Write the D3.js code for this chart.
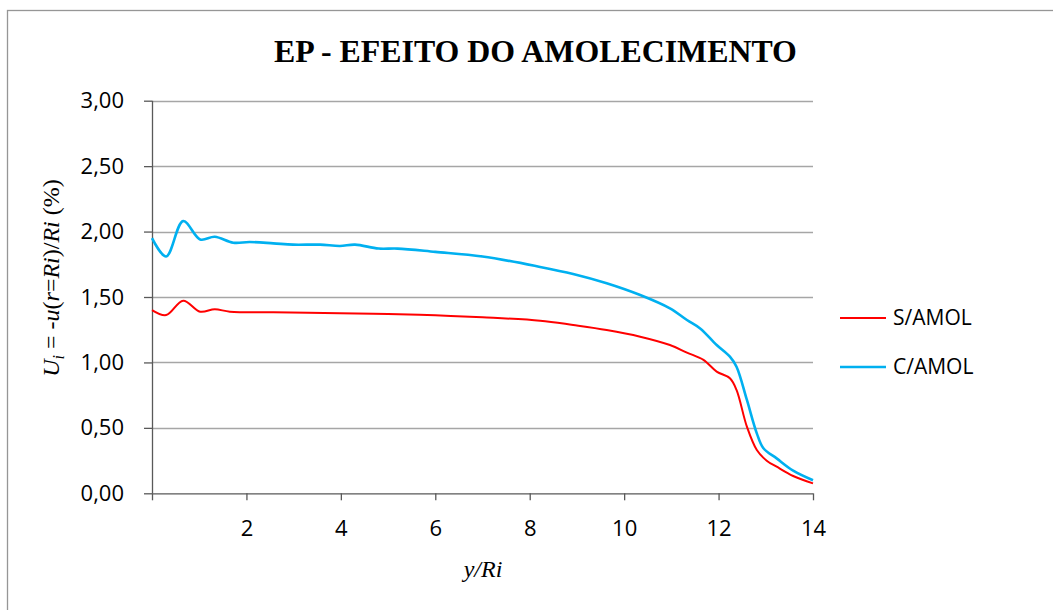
<!DOCTYPE html>
<html><head><meta charset="utf-8">
<script src="https://cdnjs.cloudflare.com/ajax/libs/d3/7.8.5/d3.min.js"></script>
<style>body{margin:0;background:#fff;} svg{display:block;}</style>
</head><body>
<svg id="c" width="1053" height="610"></svg>
<script>
const title = "EP - EFEITO DO AMOLECIMENTO";
const seriesNames = ["S/AMOL", "C/AMOL"];
const seriesColors = ["#FF0000", "#00B0F0"];
const xTicks = [0, 2, 4, 6, 8, 10, 12, 14];
const yTicks = [0, 0.5, 1.0, 1.5, 2.0, 2.5, 3.0];

const sX = [0, 0.30, 0.66, 1.02, 1.33, 1.65, 2.57, 3.98, 5.0, 6.0, 7.0, 8.22, 8.92, 9.63, 10.34, 10.97, 11.33, 11.68, 11.96, 12.24, 12.38, 12.60, 12.81, 13.02, 13.23, 13.58, 14.0];
const sY = [1.40, 1.362, 1.472, 1.388, 1.406, 1.388, 1.383, 1.375, 1.37, 1.36, 1.345, 1.319, 1.286, 1.248, 1.197, 1.133, 1.075, 1.019, 0.93, 0.879, 0.79, 0.509, 0.331, 0.249, 0.203, 0.132, 0.076];

const cX = [0, 0.30, 0.66, 1.02, 1.33, 1.72, 2.07, 2.57, 2.99, 3.56, 3.98, 4.3, 4.8, 5.2, 6.0, 7.0, 8.22, 8.92, 9.63, 10.34, 10.97, 11.33, 11.61, 11.96, 12.24, 12.38, 12.60, 12.81, 12.95, 13.23, 13.58, 14.0];
const cY = [1.95, 1.81, 2.08, 1.94, 1.96, 1.915, 1.92, 1.91, 1.90, 1.90, 1.89, 1.90, 1.87, 1.87, 1.845, 1.81, 1.73, 1.676, 1.605, 1.515, 1.413, 1.324, 1.26, 1.133, 1.044, 0.967, 0.713, 0.458, 0.344, 0.267, 0.173, 0.10];

const svg = d3.select("#c");
const L = 152, R = 813, T = 100.7, B = 493.3;
const x = d3.scaleLinear().domain([0, 14]).range([L, R]);
const y = d3.scaleLinear().domain([0, 3]).range([B, T]);
const fmt = v => d3.format(".2f")(v).replace(".", ",");
const FS = 22;

// frame (only top and left edges fall inside the picture)
svg.append("rect").attr("x", 7.5).attr("y", 10.5).attr("width", 1200).attr("height", 800)
  .attr("fill", "#fff").attr("stroke", "#969696").attr("stroke-width", 1.3);

// grid
svg.append("g").selectAll("line").data(yTicks.filter(d => d > 0)).join("line")
  .attr("x1", L).attr("x2", R).attr("y1", d => Math.round(y(d)) + 0.5).attr("y2", d => Math.round(y(d)) + 0.5)
  .attr("stroke", "#A6A6A6").attr("stroke-width", 1.3);

// y axis
const ya = svg.append("g").attr("transform", `translate(${L},0)`)
  .call(d3.axisLeft(y).tickValues(yTicks).tickFormat(fmt).tickSize(8).tickPadding(20));
// x axis
const xa = svg.append("g").attr("transform", `translate(0,${B})`)
  .call(d3.axisBottom(x).tickValues(xTicks).tickFormat(d => d === 0 ? "" : d).tickSize(7).tickPadding(20));
[ya, xa].forEach(a => {
  a.select(".domain").attr("stroke", "#595959").attr("stroke-width", 1.3);
  a.selectAll(".tick line").attr("stroke", "#595959").attr("stroke-width", 1.3);
  a.selectAll("text").attr("font-family", "Open Sans, sans-serif").attr("font-size", FS).attr("fill", "#000");
});
xa.select(".domain").attr("d", `M${L},0.5H${R}`);
ya.select(".domain").attr("d", `M0.5,${B}V${T}`);

// lines
const line = d3.line().x(d => x(d[0])).y(d => y(d[1])).curve(d3.curveCatmullRom.alpha(0.5));
const sData = sX.map((v, i) => [v, sY[i]]);
const cData = cX.map((v, i) => [v, cY[i]]);
svg.append("path").datum(sData).attr("d", line).attr("fill", "none").attr("stroke", seriesColors[0]).attr("stroke-width", 2);
svg.append("path").datum(cData).attr("d", line).attr("fill", "none").attr("stroke", seriesColors[1]).attr("stroke-width", 2.6);

// title
const t = svg.append("text").attr("x", 535.5).attr("y", 62).attr("text-anchor", "middle")
  .attr("font-family", "Liberation Serif, Times New Roman, serif").attr("font-weight", "bold")
  .attr("font-size", 28).text(title);
const tw = t.node().getComputedTextLength();
t.attr("font-size", 28 * 523 / tw);

// y label
const yl = svg.append("text").attr("transform", "translate(59,278) rotate(-90)").attr("text-anchor", "middle")
  .attr("font-family", "Liberation Serif, Times New Roman, serif").attr("font-size", 24).attr("fill", "#000");
yl.append("tspan").attr("font-style", "italic").text("U");
yl.append("tspan").attr("font-style", "italic").attr("font-size", 16).attr("dy", 5).text("i");
yl.append("tspan").attr("dy", -5).text(" = -");
yl.append("tspan").attr("font-style", "italic").text("u");
yl.append("tspan").text("(");
yl.append("tspan").attr("font-style", "italic").text("r");
yl.append("tspan").text("=");
yl.append("tspan").attr("font-style", "italic").text("Ri");
yl.append("tspan").text(")/");
yl.append("tspan").attr("font-style", "italic").text("Ri");
yl.append("tspan").text(" (%)");

// x label
svg.append("text").attr("x", 483).attr("y", 577).attr("text-anchor", "middle")
  .attr("font-family", "Liberation Serif, Times New Roman, serif").attr("font-style", "italic").attr("font-size", 24)
  .text("y/Ri");

// legend
const lg = svg.append("g");
seriesNames.forEach((n, i) => {
  const yy = 318 + i * 49;
  lg.append("line").attr("x1", 840).attr("x2", 886).attr("y1", yy).attr("y2", yy)
    .attr("stroke", seriesColors[i]).attr("stroke-width", i === 0 ? 2 : 2.6);
  lg.append("text").attr("x", 893).attr("y", yy).attr("dy", "0.35em")
    .attr("font-family", "Open Sans, sans-serif").attr("font-size", FS - 1).text(n);
});
</script>
</body></html>
